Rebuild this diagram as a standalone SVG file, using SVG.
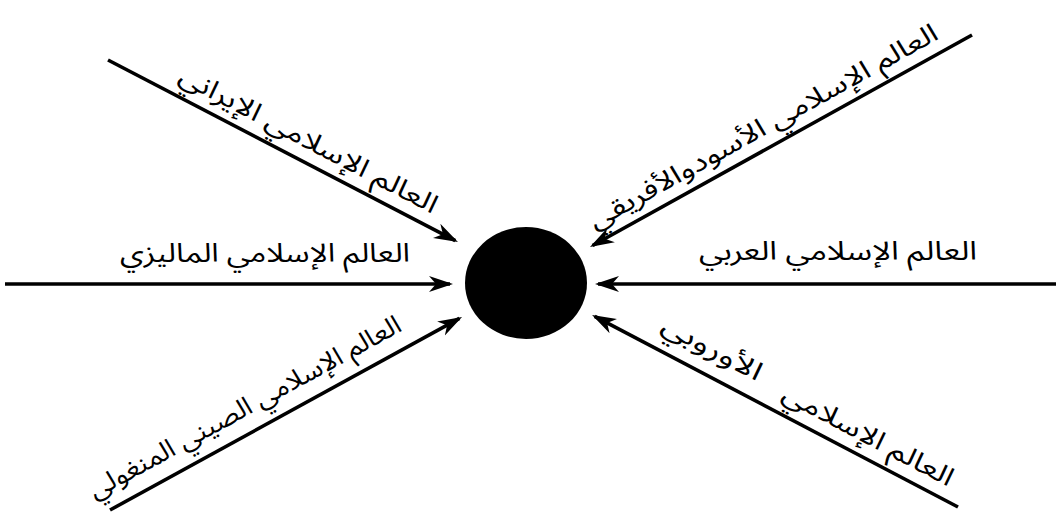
<svg xmlns="http://www.w3.org/2000/svg" width="1056" height="517" viewBox="0 0 1056 517">
<style>
.ln{stroke:#000;stroke-width:3.6;fill:none;marker-end:url(#ah)}
.lb{font-family:"Noto Sans Arabic","DejaVu Sans",sans-serif;font-size:26px;fill:#000;text-anchor:middle}
</style>
<defs>
<marker id="ah" viewBox="0 0 24 18" refX="21" refY="9" markerWidth="24" markerHeight="18" markerUnits="userSpaceOnUse" orient="auto">
<path d="M0,1 L24,9 L0,17 L7,9 Z" fill="#000"/>
</marker>
</defs>
<rect width="1056" height="517" fill="#fff"/>
<g id="center">
<ellipse cx="526" cy="283" rx="61" ry="56" fill="#000"/>
</g>
<g id="connectors">
<line class="ln" x1="108" y1="60" x2="455.3" y2="240.6"/>
<line class="ln" x1="5" y1="284" x2="450" y2="284"/>
<line class="ln" x1="1056" y1="284" x2="598" y2="284"/>
<line class="ln" x1="972" y1="35" x2="592.6" y2="245.5"/>
<line class="ln" x1="110" y1="510" x2="459.4" y2="318.4"/>
<line class="ln" x1="958" y1="507" x2="594.7" y2="316.4"/>
</g>
<g id="iran">
<text class="lb" transform="translate(304.7,147.5) rotate(27.5)" textLength="288" lengthAdjust="spacingAndGlyphs">العالم الإسلامي الإيراني</text>
</g>
<g id="malaysia">
<text class="lb" x="265" y="262" textLength="290" lengthAdjust="spacingAndGlyphs">العالم الإسلامي الماليزي</text>
</g>
<g id="arab">
<text class="lb" x="838" y="260" textLength="278" lengthAdjust="spacingAndGlyphs">العالم الإسلامي العربي</text>
</g>
<g id="africa">
<text class="lb" transform="translate(767.3,134) rotate(-29)" textLength="395" lengthAdjust="spacingAndGlyphs">العالم الإسلامي الأسودوالأفريقي</text>
</g>
<g id="china">
<text class="lb" transform="translate(248.8,414.7) rotate(-28.7)" textLength="352" lengthAdjust="spacingAndGlyphs">العالم الإسلامي الصيني المنغولي</text>
</g>
<g id="europe">
<text class="lb" transform="translate(864.3,442.8) rotate(27.7)" textLength="190" lengthAdjust="spacingAndGlyphs">العالم الإسلامي</text>
<text class="lb" transform="translate(708.3,355.9) rotate(27.7)" textLength="110" lengthAdjust="spacingAndGlyphs">الأوروبي</text>
</g>
</svg>
